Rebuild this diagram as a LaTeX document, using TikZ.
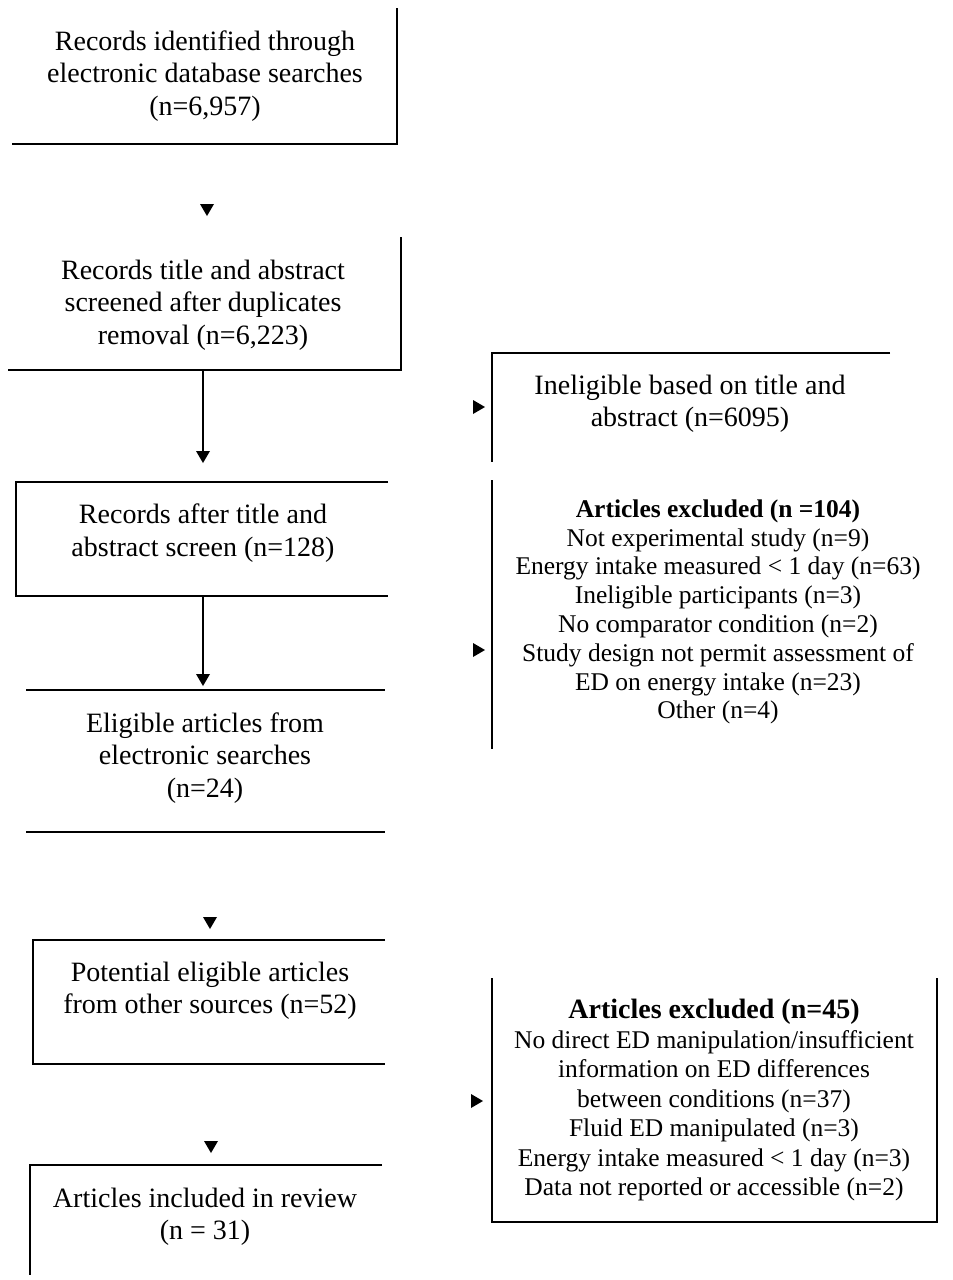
\documentclass[tikz,border=0pt]{standalone}
\usepackage{fontspec}
\setmainfont{Liberation Serif}
\begin{document}
\begin{tikzpicture}[x=1pt,y=-1pt,
  edge/.style={line width=2.6pt},
  txt/.style={align=center,inner sep=0pt,font=\fontsize{28}{32.5}\selectfont},
  rtxt/.style={align=center,inner sep=0pt,font=\fontsize{25.5}{28.8}\selectfont},
  conn/.style={line width=2.6pt},
  downhead/.pic={\fill (-7,-6) -- (7,-6) -- (0,6) -- cycle;},
  righthead/.pic={\fill (-6,-7) -- (-6,7) -- (6,0) -- cycle;}]
\useasboundingbox (0,0) rectangle (953,1280);
% left column texts
\node[txt] (b1) at (205,76) {Records identified through\\electronic database searches\\(n=6,957)};
\node[txt] (b2) at (203,305) {Records title and abstract\\screened after duplicates\\removal (n=6,223)};
\node[txt] (b3) at (203,533) {Records after title and\\abstract screen (n=128)};
\node[txt] (b4) at (205,758) {Eligible articles from\\electronic searches\\(n=24)};
\node[txt] (b5) at (210,991) {Potential eligible articles\\from other sources (n=52)};
\node[txt] (b6) at (205,1217) {Articles included in review\\(n = 31)};
% right column texts
\node[txt] (r1) at (690,404) {Ineligible based on title and\\abstract (n=6095)};
\node[rtxt] (r2) at (718,612) {\textbf{Articles excluded (n =104)}\\Not experimental study (n=9)\\Energy intake measured < 1 day (n=63)\\Ineligible participants (n=3)\\No comparator condition (n=2)\\Study design not permit assessment of\\ED on energy intake (n=23)\\Other (n=4)};
\node[rtxt,font=\fontsize{25.5}{29.5}\selectfont] (r3) at (714,1100) {{\fontsize{28}{30}\selectfont\textbf{Articles excluded (n=45)}}\\No direct ED manipulation/insufficient\\information on ED differences\\between conditions (n=37)\\Fluid ED manipulated (n=3)\\Energy intake measured < 1 day (n=3)\\Data not reported or accessible (n=2)};
% visible box borders
\draw[edge] (397,8) -- (397,144) -- (12,144);
\draw[edge] (401,237) -- (401,370) -- (8,370);
\draw[edge] (388,482) -- (16,482) -- (16,596) -- (388,596);
\draw[edge] (26,690) -- (385,690);
\draw[edge] (26,832) -- (385,832);
\draw[edge] (385,940) -- (33,940) -- (33,1064) -- (385,1064);
\draw[edge] (382,1165) -- (30,1165) -- (30,1275);
\draw[edge] (890,353) -- (492,353) -- (492,462);
\draw[edge] (492,480) -- (492,749);
\draw[edge] (492,978) -- (492,1222) -- (937,1222) -- (937,978);
% connectors
\coordinate (c2) at (203,371);
\coordinate (c3t) at (203,456);
\coordinate (c3) at (203,597);
\coordinate (c4t) at (203,678);
\draw[conn] (c2) -- (c3t);
\draw[conn] (c3) -- (c4t);
\pic at (203,457) {downhead};
\pic at (203,680) {downhead};
% isolated arrowheads
\pic at (207,210) {downhead};
\pic at (210,923) {downhead};
\pic at (211,1147) {downhead};
\pic at (479,407) {righthead};
\pic at (479,650) {righthead};
\pic at (477,1101) {righthead};
\end{tikzpicture}
\end{document}
